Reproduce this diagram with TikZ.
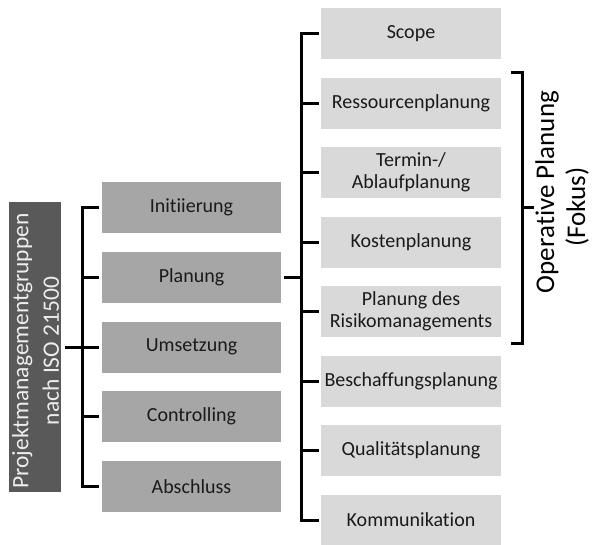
\documentclass[tikz,border=0pt]{standalone}
\usepackage{fontspec}
\setmainfont{Carlito}[Ligatures=NoCommon]
\definecolor{darkbox}{HTML}{595959}
\definecolor{midbox}{HTML}{A6A6A6}
\definecolor{lightbox}{HTML}{D9D9D9}
\definecolor{txt}{HTML}{1A1A1A}
\definecolor{lefttxt}{HTML}{EDEDED}
\begin{document}
\begin{tikzpicture}[x=1pt,y=-1pt,
  midnode/.style={fill=midbox,minimum width=179pt,minimum height=51pt,inner sep=0pt,align=center,text=txt,font=\fontsize{20}{21.5}\selectfont},
  rnode/.style={fill=lightbox,minimum width=180pt,minimum height=51pt,inner sep=0pt,align=center,text=txt,font=\fontsize{20}{21.5}\selectfont},
  brk/.style={line width=3pt,black,line cap=rect,line join=miter}]
\useasboundingbox (0,0) rectangle (600,544);
% left dark box
\node[fill=darkbox,minimum width=52pt,minimum height=290pt,inner sep=0pt] (root) at (35,347) {};
\node[rotate=90,text=lefttxt,align=center,font=\fontsize{23.5}{30.5}\selectfont] (roottxt) at (35.5,351) {Projektmanagementgruppen\\nach ISO 21500};
% middle
\node[midnode] (m1) at (191.5,207.5) {Initiierung};
\node[midnode] (m2) at (191.5,277.25) {Planung};
\node[midnode] (m3) at (191.5,347) {Umsetzung};
\node[midnode] (m4) at (191.5,416.75) {Controlling};
\node[midnode] (m5) at (191.5,486.5) {Abschluss};
% right
\node[rnode] (r1) at (411,33.5) {Scope};
\node[rnode] (r2) at (411,103) {Ressourcenplanung};
\node[rnode] (r3) at (411,172.5) {Termin-/\\Ablaufplanung};
\node[rnode] (r4) at (411,242) {Kostenplanung};
\node[rnode] (r5) at (411,311.5) {Planung des\\Risikomanagements};
\node[rnode] (r6) at (411,381) {Beschaffungsplanung};
\node[rnode] (r7) at (411,450.5) {Qualitätsplanung};
\node[rnode] (r8) at (411,520) {Kommunikation};
% left bracket
\coordinate (lx) at (82,0);
\draw[brk] ([xshift=5pt]root.east) -- (root.east -| lx);
\draw[brk] ([xshift=-4pt]m1.west) -- (m1.west -| lx) -- (m5.west -| lx) -- ([xshift=-4pt]m5.west);
\foreach \i in {2,3,4} \draw[brk] (m\i.west -| lx) -- ([xshift=-4pt]m\i.west);
% right bracket
\coordinate (rx) at (301,0);
\draw[brk] ([xshift=4pt]m2.east) -- (m2.east -| rx);
\draw[brk] ([xshift=-3pt]r1.west) -- (r1.west -| rx) -- (r8.west -| rx) -- ([xshift=-3pt]r8.west);
\foreach \i in {2,...,7} \draw[brk] (r\i.west -| rx) -- ([xshift=-3pt]r\i.west);
% operative bracket
\coordinate (otop) at (522,72);
\coordinate (obot) at (522,343);
\coordinate (omid) at (522,207.5);
\coordinate (otip) at (532,207.5);
\draw[brk] ([xshift=-10pt]otop) -- (otop) -- (obot) -- ([xshift=-10pt]obot);
\draw[brk] (omid) -- (otip);
\node[rotate=90,align=center,text=black,font=\fontsize{27}{31}\selectfont] (optxt) at (562,207) {\hspace*{30pt}Operative Planung\\(Fokus)};
\end{tikzpicture}
\end{document}
